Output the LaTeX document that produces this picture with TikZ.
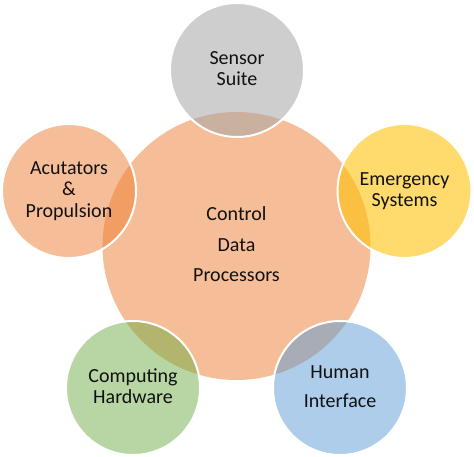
\documentclass[tikz,border=0pt]{standalone}
\usepackage{fontspec}
\setmainfont{Carlito}
\definecolor{corange}{HTML}{ED7D31}
\definecolor{cgray}{HTML}{A5A5A5}
\definecolor{cgold}{HTML}{FFC000}
\definecolor{cblue}{HTML}{5B9BD5}
\definecolor{cgreen}{HTML}{70AD47}
\definecolor{ctext}{HTML}{111111}
\newcommand\lnstrut{\vrule height 15pt depth 5pt width 0pt}
\begin{document}
\begin{tikzpicture}[x=1pt,y=-1pt,
  hub/.style={circle, fill=corange, fill opacity=0.5, text opacity=1,
    minimum size=268pt, inner sep=0pt, outer sep=0pt, align=center,
    font=\fontsize{20}{30.5}\selectfont, text=ctext},
  sat/.style={circle, draw=white, line width=2pt, draw opacity=1,
    fill opacity=0.5, text opacity=1, minimum size=134pt, inner sep=0pt,
    outer sep=0pt, align=center, font=\fontsize{20}{21.7}\selectfont, text=ctext}]
\useasboundingbox (0,0) rectangle (474,457);
\node[hub] (hub) at (236.5,246) {\lnstrut Control\\\lnstrut Data\\\lnstrut Processors};
\node[sat, fill=cgray, fill opacity=0.54] (sensor) at (237,70) {\lnstrut Sensor\\\lnstrut Suite};
\node[sat, fill=corange] (act) at (69,191) {\lnstrut Acutators\\\lnstrut \&\\\lnstrut Propulsion};
\node[sat, fill=cgold, fill opacity=0.57] (emerg) at (404.5,191) {\lnstrut Emergency\\\lnstrut Systems};
\node[sat, fill=cgreen] (comp) at (133,388) {\lnstrut Computing\\\lnstrut Hardware};
\node[sat, fill=cblue] (human) at (340,388) {\lnstrut Human\\[8pt]\lnstrut Interface};
\end{tikzpicture}
\end{document}
